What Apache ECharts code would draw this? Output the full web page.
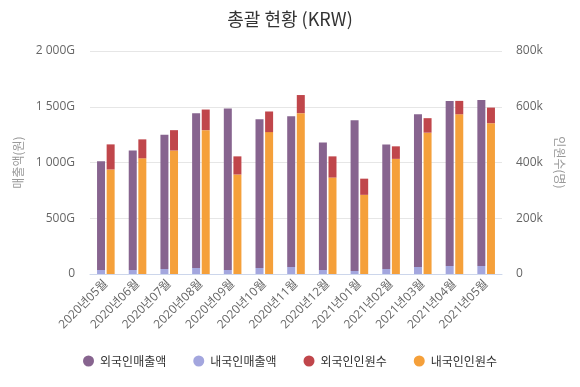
<!DOCTYPE html>
<html><head><meta charset="utf-8">
<script src="https://cdn.jsdelivr.net/npm/echarts@6/dist/echarts.min.js"></script>
<style>html,body{margin:0;padding:0;background:#fff}#c{width:580px;height:387px}</style>
</head><body><div id="c"></div>
<script>
const categories = ['2020년05월','2020년06월','2020년07월','2020년08월','2020년09월','2020년10월','2020년11월','2020년12월','2021년01월','2021년02월','2021년03월','2021년04월','2021년05월'];
// sales in G (billion KRW)
const foreignSales = [976,1072,1205,1387,1448,1333,1351,1144,1351,1117,1369,1480,1489];
const domesticSales = [36,36,45,54,36,54,63,36,27,45,63,72,72];
// visitors in k
const foreignVisitors = [90,68,73,74,65,74,65,76,58,45,52,48,56];
const domesticVisitors = [375,415,443,516,357,509,577,346,284,413,507,573,541];
const leftTicks = [0,500,1000,1500,2000];
const rightTicks = [0,200,400,600,800];

const FONT = "'Noto Sans CJK KR', 'Noto Sans', sans-serif";
const NUMFONT = "'Open Sans', 'Noto Sans CJK KR', sans-serif";
const chart = echarts.init(document.getElementById('c'));
function fmtG(v){ if(v===0) return '0'; return String(v).replace(/\B(?=(\d{3})+(?!\d))/g,' ')+'G'; }
chart.setOption({
  animation:false,
  textStyle:{fontFamily:FONT},
  title:{text:'총괄 현황 (KRW)',left:'center',top:5,textStyle:{fontFamily:FONT,fontSize:18,fontWeight:'normal',color:'#333'}},
  color:['#87648f','#a3a6de','#c0464b','#f5a03a'],
  legend:{top:350,left:'center',itemGap:27,itemWidth:13,itemHeight:11,icon:'circle',
    data:['외국인매출액','내국인매출액','외국인인원수','내국인인원수'],
    textStyle:{fontFamily:FONT,fontSize:12,color:'#333'}},
  grid:{left:90,right:78,top:51,bottom:113},
  xAxis:{type:'category',data:categories,
    axisLine:{lineStyle:{color:'#ccd6eb'}},axisTick:{show:false},
    axisLabel:{rotate:45,fontSize:12,color:'#666',fontFamily:NUMFONT,margin:8,interval:0}},
  yAxis:[
    {type:'value',min:leftTicks[0],max:leftTicks[leftTicks.length-1],interval:500,
     name:'매출액(원)',nameLocation:'middle',nameRotate:90,nameGap:56,
     nameTextStyle:{color:'#999',fontSize:12,fontFamily:FONT},
     axisLabel:{formatter:fmtG,color:'#666',fontSize:12,fontFamily:NUMFONT,margin:15},
     splitLine:{lineStyle:{color:'#e6e6e6'}},axisLine:{show:false},axisTick:{show:false}},
    {type:'value',min:rightTicks[0],max:rightTicks[rightTicks.length-1],interval:200,
     name:'인원수(명)',nameLocation:'middle',nameRotate:-90,nameGap:50,
     nameTextStyle:{color:'#999',fontSize:12,fontFamily:FONT},
     axisLabel:{formatter:v=>v===0?'0':v+'k',color:'#666',fontSize:12,fontFamily:NUMFONT,margin:14},
     splitLine:{show:false},axisLine:{show:false},axisTick:{show:false}}
  ],
  series:[
    {name:'내국인매출액',type:'bar',stack:'sales',yAxisIndex:0,data:domesticSales,barWidth:8,barGap:'20%',itemStyle:{color:'#a3a6de'}},
    {name:'외국인매출액',type:'bar',stack:'sales',yAxisIndex:0,data:foreignSales,barWidth:8,barGap:'20%',itemStyle:{color:'#87648f'}},
    {name:'내국인인원수',type:'bar',stack:'visitors',yAxisIndex:1,data:domesticVisitors,barWidth:8,barGap:'20%',itemStyle:{color:'#f5a03a'}},
    {name:'외국인인원수',type:'bar',stack:'visitors',yAxisIndex:1,data:foreignVisitors,barWidth:8,barGap:'20%',itemStyle:{color:'#c0464b'}}
  ]
});
</script></body></html>
